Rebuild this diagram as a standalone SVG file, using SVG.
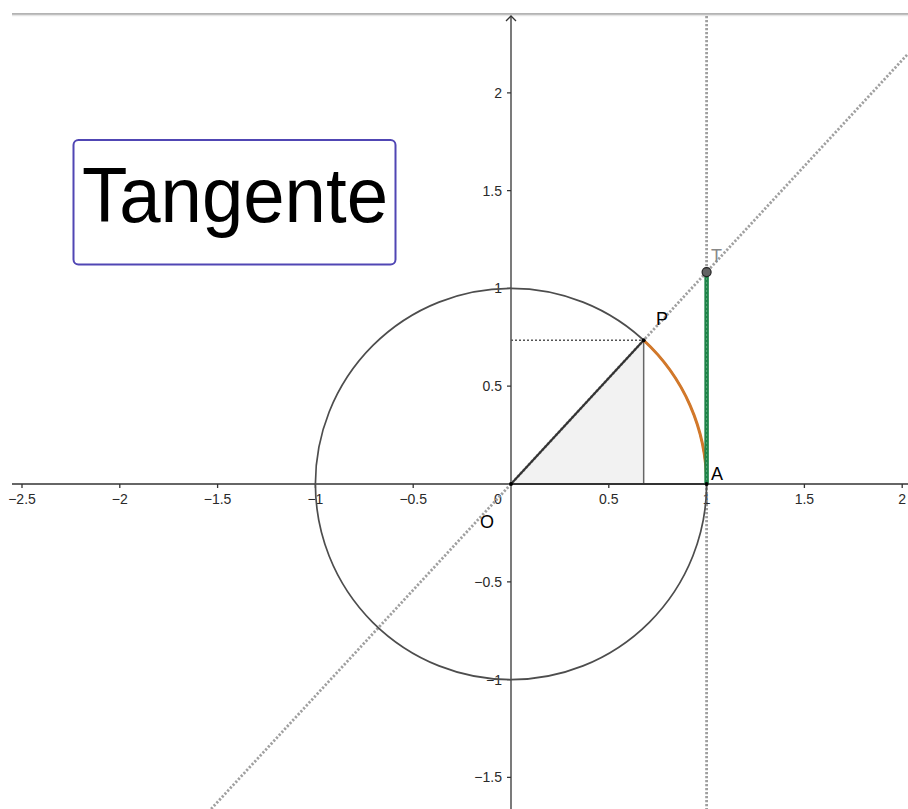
<svg xmlns="http://www.w3.org/2000/svg" width="908" height="809" viewBox="0 0 908 809">
<style>
.tick{font-family:"Liberation Sans",Arial,sans-serif;font-size:14px;fill:#2a2a2a}
.lbl{font-family:"Liberation Sans",Arial,sans-serif;font-size:18px;fill:#000}
.axis{stroke:#333;stroke-width:1.3;fill:none}
.dot{stroke:#a0a0a0;stroke-width:2.8;stroke-dasharray:2.2 1.8;fill:none}
</style>
<rect width="908" height="809" fill="#fff"/>
<g id="frame">
<line x1="12" y1="14" x2="908" y2="14" stroke="#9a9a9a" stroke-width="1.5"/>
<line x1="12" y1="15.5" x2="908" y2="15.5" stroke="#e6e6e6" stroke-width="1.5"/>
</g>
<g id="axes">
<line class="axis" x1="12" y1="484" x2="908" y2="484"/>
<line class="axis" x1="511" y1="16" x2="511" y2="809"/>
<polyline class="axis" points="506,21 511,16 516,21"/>
<path class="axis" d="M22,484v4M119.8,484v4M217.6,484v4M315.4,484v4M413.2,484v4M608.8,484v4M706.6,484v4M804.4,484v4M902.2,484v4"/>
<path class="axis" d="M507,92.8h4M507,190.6h4M507,288.4h4M507,386.2h4M507,581.8h4M507,679.6h4M507,777.4h4"/>
<g class="tick" text-anchor="middle">
<text x="22" y="504">−2.5</text>
<text x="119.8" y="504">−2</text>
<text x="217.6" y="504">−1.5</text>
<text x="315.4" y="504">−1</text>
<text x="413.2" y="504">−0.5</text>
<text x="498" y="504">0</text>
<text x="608.8" y="504">0.5</text>
<text x="706.6" y="504">1</text>
<text x="804.4" y="504">1.5</text>
<text x="902.2" y="504">2</text>
</g>
<g class="tick" text-anchor="end">
<text x="502" y="97.8">2</text>
<text x="502" y="195.6">1.5</text>
<text x="502" y="293.4">1</text>
<text x="502" y="391.2">0.5</text>
<text x="502" y="586.8">−0.5</text>
<text x="502" y="684.6">−1</text>
<text x="502" y="782.4">−1.5</text>
</g>
</g>
<g id="connectors">
<polygon points="511,484 643.66,340.25 643.66,484" fill="#f2f2f2" stroke="none"/>
<line class="dot" x1="706.6" y1="16" x2="706.6" y2="809"/>
<line class="dot" x1="211.1" y1="809" x2="908" y2="53.8"/>
<line x1="511" y1="340.25" x2="643.66" y2="340.25" stroke="#555" stroke-width="1.5" stroke-dasharray="2 2"/>
<circle cx="511" cy="484" r="195.6" fill="none" stroke="#4d4d4d" stroke-width="1.7"/>
<line x1="643.66" y1="340.25" x2="643.66" y2="484" stroke="#666" stroke-width="1.5"/>
<line x1="511" y1="484" x2="706.6" y2="484" stroke="#333" stroke-width="2"/>
<line x1="511" y1="484" x2="643.66" y2="340.25" stroke="#333" stroke-width="2"/>
<path d="M706.6,484 A195.6,195.6 0 0 0 643.66,340.25" fill="none" stroke="#d2782a" stroke-width="3"/>
<line x1="706.6" y1="484" x2="706.6" y2="272" stroke="#1e8449" stroke-width="4.5"/>
<line x1="706.6" y1="484" x2="706.6" y2="272" stroke="#7fbf99" stroke-width="1" stroke-dasharray="2 2" opacity="0.6"/>
</g>
<g id="O"><circle cx="511" cy="484" r="2" fill="#000"/><text class="lbl" x="480" y="528">O</text></g>
<g id="A"><circle cx="706.6" cy="484" r="2" fill="#000"/><text class="lbl" x="711" y="480">A</text></g>
<g id="P"><circle cx="643.66" cy="340.25" r="2" fill="#000"/><text class="lbl" x="656" y="325">P</text></g>
<g id="T"><circle cx="706.6" cy="272.1" r="4.5" fill="#636363" stroke="#222" stroke-width="1.2"/><text class="lbl" x="711" y="262" style="fill:#888">T</text></g>
<g id="title">
<rect x="73.5" y="140" width="322" height="124.5" rx="5" fill="#fff" stroke="#5046b4" stroke-width="2"/>
<text x="82" y="221.5" font-family="'Liberation Sans',Arial,sans-serif" font-size="78" fill="#000" textLength="306" lengthAdjust="spacingAndGlyphs">Tangente</text>
</g>
</svg>
